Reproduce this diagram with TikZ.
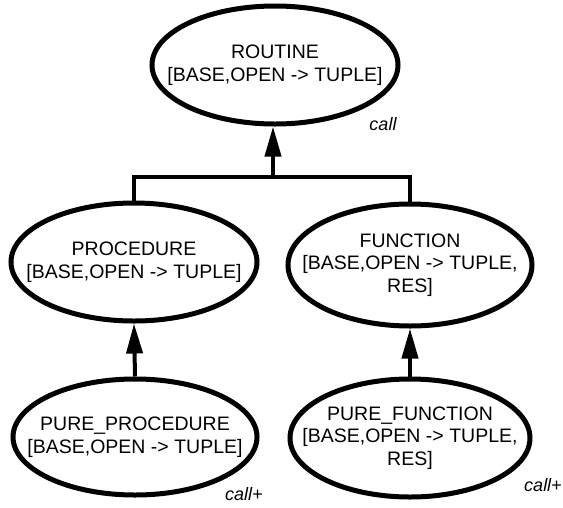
\documentclass[tikz,border=0pt]{standalone}
\usepackage{fontspec}
\setmainfont{Liberation Sans}
\usetikzlibrary{shapes.geometric,arrows.meta}
\tikzset{
  typebox/.style={ellipse, draw, line width=5pt, inner xsep=-40pt, inner ysep=0pt,
    align=center, font=\fontsize{19.5}{22.5}\selectfont},
  link/.style={line width=4pt},
  inherit/.style={line width=4pt, -{Triangle[length=30pt,width=16pt]}},
  tag/.style={font=\fontsize{18}{20}\selectfont\itshape, inner sep=0pt}
}
\begin{document}
\begin{tikzpicture}[x=1pt,y=-1pt]
  \useasboundingbox (0,0) rectangle (563,507);

  \node[typebox, minimum width=246pt, minimum height=118pt] (routine) at (275,65)
    {ROUTINE\\{[}BASE,OPEN -> TUPLE{]}};
  \node[typebox, minimum width=246pt, minimum height=118pt] (proc) at (134,262)
    {PROCEDURE\\{[}BASE,OPEN -> TUPLE{]}};
  \node[typebox, minimum width=244pt, minimum height=122pt] (func) at (410,265)
    {FUNCTION\\{[}BASE,OPEN -> TUPLE,\\RES{]}};
  \node[typebox, minimum width=244pt, minimum height=116pt] (pproc) at (135,437)
    {PURE\_PROCEDURE\\{[}BASE,OPEN -> TUPLE{]}};
  \node[typebox, minimum width=240pt, minimum height=118pt] (pfunc) at (410,438)
    {PURE\_FUNCTION\\{[}BASE,OPEN -> TUPLE,\\RES{]}};

  \coordinate (j) at (273,177);
  \draw[link] (proc.north) |- (j) -| (func.north);
  \draw[inherit] (j) -- (j |- routine.south);
  \draw[inherit] (pproc.north) -- (proc.south);
  \draw[inherit] (pfunc.north) -- (func.south);

  \node[tag] (c1) at (383,124) {call};
  \node[tag] (c2) at (244,494) {call+};
  \node[tag] (c3) at (543,485) {call+};
\end{tikzpicture}
\end{document}
